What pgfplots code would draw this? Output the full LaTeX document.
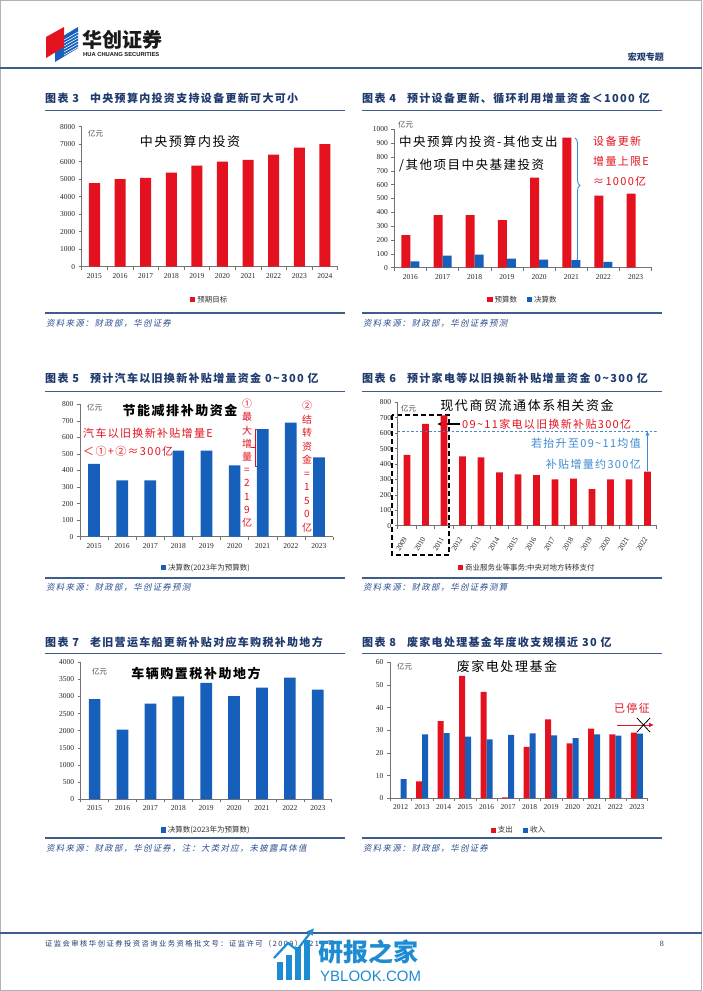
\documentclass[border=0pt]{standalone}
\usepackage{pgfplots}
\pgfplotsset{compat=1.18}
\usepackage{fontspec}
\setmainfont{Liberation Serif}
\newfontfamily\cjk{Noto Sans CJK SC}
\newfontfamily\cjksp[LetterSpace=12]{Noto Sans CJK SC}
\newfontfamily\cjkit[FakeSlant=0.2,LetterSpace=14]{Noto Sans CJK SC}
\newfontfamily\cjkft[LetterSpace=20]{Noto Sans CJK SC}
\newfontfamily\sans{Liberation Sans}
\usetikzlibrary{decorations.pathreplacing,arrows.meta}

\definecolor{hcred}{RGB}{228,18,30}
\definecolor{hcblue}{RGB}{22,96,188}
\definecolor{navy}{RGB}{30,58,110}
\definecolor{lineblue}{RGB}{62,92,140}
\definecolor{lblue}{RGB}{60,140,210}
\definecolor{srcblue}{RGB}{45,80,145}
\definecolor{wmblue}{RGB}{30,140,210}

\newcommand{\ttl}{\fontsize{11}{11}\selectfont\cjksp\bfseries}
\newcommand{\src}{\fontsize{8.5}{9}\selectfont\cjkit}
\newcommand{\bigt}{\fontsize{13}{13}\selectfont\cjksp}
\newcommand{\ann}{\fontsize{11}{11}\selectfont\cjksp}
\newcommand{\unit}{\fontsize{7.5}{8}\selectfont\cjk}

\pgfplotsset{
  sq/.style={legend image code/.code={\fill[##1] (0pt,-2.6pt) rectangle (5.2pt,2.6pt);}},
  hc/.style={
    scale only axis, ybar, ymin=0,
    axis x line*=bottom, axis y line*=left,
    axis line style={black!55, line width=0.6pt},
    tick style={black!55, line width=0.5pt},
    tick align=outside, major tick length=3pt,
    x tick label as interval,
    tick label style={font=\fontsize{7.5}{8}\selectfont, text=black!85},
    /pgf/number format/1000 sep={},
    /pgf/number format/assume math mode=true,
    legend style={draw=none, fill=none, font=\fontsize{7.5}{8}\selectfont\cjk, text=black!80,
      legend columns=-1, anchor=center, /tikz/every even column/.append style={column sep=8pt}},
  },
}

\begin{document}
\begin{tikzpicture}
\begin{scope}[x=1pt,y=-1pt]
\path[use as bounding box] (0,0) rectangle (702,991);
\fill[white] (0,0) rectangle (702,991);
\draw[gray!60, line width=0.8pt] (0.5,0.5) rectangle (701.5,990.5);

% ---------- header ----------
\fill[hcblue] (55,41) -- (78,27) -- (78,48) -- (55,62) -- cycle;
\foreach \k in {0,3,6,9,12,15,18} {\draw[white, line width=0.6pt] (64,58-\k) -- (78,58-\k-8);}
\fill[hcred] (46,37) -- (64,27) -- (64,47) -- (46,58) -- cycle;
\node[anchor=west, inner sep=0, text=black!90] at (82,40) {\fontsize{20}{20}\selectfont\cjk\bfseries 华创证券};
\node[anchor=west, inner sep=0, text=black!90] at (83,55) {\fontsize{5.8}{6}\selectfont\sans\bfseries HUA CHUANG SECURITIES};
\node[anchor=east, inner sep=0, text=navy] at (664,57) {\fontsize{9}{9}\selectfont\cjk\bfseries 宏观专题};
\draw[lineblue, line width=2pt] (0,68) -- (702,68);

% ---------- titles ----------
\node[anchor=west, inner sep=0, text=navy] at (45,98) {\ttl 图表 3\quad 中央预算内投资支持设备更新可大可小};
\node[anchor=west, inner sep=0, text=navy] at (362,98) {\ttl 图表 4\quad 预计设备更新、循环利用增量资金＜1000 亿};
\draw[lineblue, line width=1.2pt] (45,110.5) -- (345,110.5);
\draw[lineblue, line width=1.2pt] (362,110.5) -- (662,110.5);
\node[anchor=west, inner sep=0, text=navy] at (45,378) {\ttl 图表 5\quad 预计汽车以旧换新补贴增量资金 0\textasciitilde300 亿};
\node[anchor=west, inner sep=0, text=navy] at (362,378) {\ttl 图表 6\quad 预计家电等以旧换新补贴增量资金 0\textasciitilde300 亿};
\draw[lineblue, line width=1.2pt] (45,391.5) -- (345,391.5);
\draw[lineblue, line width=1.2pt] (362,391.5) -- (662,391.5);
\node[anchor=west, inner sep=0, text=navy] at (45,642) {\ttl 图表 7\quad 老旧营运车船更新补贴对应车购税补助地方};
\node[anchor=west, inner sep=0, text=navy] at (362,642) {\ttl 图表 8\quad 废家电处理基金年度收支规模近 30 亿};
\draw[lineblue, line width=1.2pt] (45,653.5) -- (345,653.5);
\draw[lineblue, line width=1.2pt] (362,653.5) -- (662,653.5);

% chart 3 texts
\node[anchor=west, inner sep=0, text=black!70] at (88,134) {\unit 亿元};
\node[inner sep=0] at (190,142) {\bigt 中央预算内投资};
% chart 4 texts
\node[anchor=west, inner sep=0, text=black!70] at (398,125) {\unit 亿元};
\node[anchor=west, inner sep=0] at (399,142) {\fontsize{12.5}{12.5}\selectfont\cjksp 中央预算内投资-其他支出};
\node[anchor=west, inner sep=0] at (399,165) {\fontsize{12.5}{12.5}\selectfont\cjksp /其他项目中央基建投资};
\draw[lblue, line width=0.9pt, decorate, decoration={brace, amplitude=5pt, aspect=0.38}] (575,138) -- (575,263);
\node[anchor=west, inner sep=0, text=hcred] at (593,141) {\ann 设备更新};
\node[anchor=west, inner sep=0, text=hcred] at (593,161) {\ann 增量上限E};
\node[anchor=west, inner sep=0, text=hcred] at (593,181) {\ann ≈1000亿};
% chart 5 texts
\node[anchor=west, inner sep=0, text=black!70] at (87,408) {\unit 亿元};
\node[inner sep=0] at (180,410) {\bigt\bfseries 节能减排补助资金};
\node[anchor=west, inner sep=0, text=hcred] at (83,433) {\ann 汽车以旧换新补贴增量E};
\node[anchor=west, inner sep=0, text=hcred] at (83,451) {\ann ＜①+②≈300亿};
\node[anchor=north, inner sep=0, text=hcred, align=center, font={\fontsize{10}{13.2}\selectfont\cjk}] at (247,399) {①\\最\\大\\增\\量\\=\\2\\1\\9\\亿};
\node[anchor=north, inner sep=0, text=hcred, align=center, font={\fontsize{10}{13.5}\selectfont\cjk}] at (307,401) {②\\结\\转\\资\\金\\=\\1\\5\\0\\亿};
\draw[hcred, line width=0.9pt] (259,429) -- (255,429) -- (255,466) -- (259,466);
\draw[hcred, line width=0.9pt] (255,447) -- (251,447);
% chart 6 texts
\node[anchor=west, inner sep=0, text=black!70] at (401,409) {\unit 亿元};
\node[inner sep=0] at (527,406) {\bigt 现代商贸流通体系相关资金};
\draw[black, line width=1.8pt, dash pattern=on 5pt off 3pt] (392,415) rectangle (449,555);
\draw[black, line width=1.1pt, -{Latex[length=5pt,width=5pt]}] (460,424) -- (437,424);
\node[anchor=west, inner sep=0, text=hcred] at (462,424) {\ann 09\textasciitilde 11家电以旧换新补贴300亿};
\node[anchor=east, inner sep=0, text=lblue] at (641,443) {\ann 若抬升至09\textasciitilde 11均值};
\node[anchor=east, inner sep=0, text=lblue] at (641,464) {\ann 补贴增量约300亿};
% chart 7 texts
\node[anchor=west, inner sep=0, text=black!70] at (92,672) {\unit 亿元};
\node[inner sep=0] at (196,673) {\bigt\bfseries 车辆购置税补助地方};
% chart 8 texts
\node[anchor=west, inner sep=0, text=black!70] at (397,667) {\unit 亿元};
\node[inner sep=0] at (507,667) {\bigt 废家电处理基金};
\node[inner sep=0, text=hcred] at (632,708) {\ann 已停征};
\draw[hcred, line width=1pt, -{Latex[length=5pt,width=5pt]}] (617,725) -- (654,725);
\draw[black, line width=0.8pt] (637,718) -- (650,732) (637,732) -- (650,718);

% ---------- sources ----------
\draw[lineblue, line width=1.2pt] (45,313) -- (345,313);
\draw[lineblue, line width=1.2pt] (362,313) -- (662,313);
\draw[lineblue, line width=1.2pt] (45,578) -- (345,578);
\draw[lineblue, line width=1.2pt] (362,578) -- (662,578);
\draw[lineblue, line width=1.2pt] (45,838) -- (345,838);
\draw[lineblue, line width=1.2pt] (362,838) -- (662,838);
\node[anchor=west, inner sep=0, text=srcblue] at (46,323) {\src 资料来源：财政部，华创证券};
\node[anchor=west, inner sep=0, text=srcblue] at (363,323) {\src 资料来源：财政部，华创证券预测};
\node[anchor=west, inner sep=0, text=srcblue] at (46,587) {\src 资料来源：财政部，华创证券预测};
\node[anchor=west, inner sep=0, text=srcblue] at (363,587) {\src 资料来源：财政部，华创证券测算};
\node[anchor=west, inner sep=0, text=srcblue] at (46,848) {\src 资料来源：财政部，华创证券，注：大类对应，未披露具体值};
\node[anchor=west, inner sep=0, text=srcblue] at (363,848) {\src 资料来源：财政部，华创证券};

% ---------- footer ----------
\draw[lineblue, line width=1.6pt] (0,933) -- (702,933);
\node[anchor=west, inner sep=0, text=navy] at (45,944) {\fontsize{7.3}{7.3}\selectfont\cjkft 证监会审核华创证券投资咨询业务资格批文号：证监许可（2009）1210 号};
\node[anchor=east, inner sep=0, text=navy] at (664,944) {\fontsize{8}{8}\selectfont 8};
\fill[wmblue] (277,980) rectangle (283,962);
\fill[wmblue] (286,980) rectangle (292,955);
\fill[wmblue] (295,980) rectangle (301,947);
\fill[wmblue] (304,980) rectangle (310,940);
\draw[wmblue, line width=2.2pt, -{Latex[length=7pt,width=8pt]}] (274,958) -- (288,943) -- (297,950) -- (314,928);
\node[anchor=west, inner sep=0, text=wmblue] at (318,952) {\fontsize{25}{25}\selectfont\cjk\bfseries 研报之家};
\node[anchor=west, inner sep=0, text=wmblue] at (320,976) {\fontsize{15}{15}\selectfont\sans YBLOOK.COM};
\end{scope}

% ---------- chart 3 ----------
\begin{axis}[hc, at={(81.7pt,-266.7pt)}, anchor=south west, width=256pt, height=140pt,
  xmin=-0.5, xmax=9.5, xtick={-0.5,0.5,...,9.5},
  xticklabels={2015,2016,2017,2018,2019,2020,2021,2022,2023,2024},
  ymax=8000, ytick={0,1000,...,8000}, bar width=11pt,
  legend style={at={(0.5,0)}, yshift=-33pt}]
\addplot[fill=hcred, draw=none, sq] coordinates {(0,4776) (1,5000) (2,5076) (3,5376) (4,5776) (5,6000) (6,6100) (7,6400) (8,6800) (9,7000)};
\legend{预期目标}
\end{axis}

% ---------- chart 4 ----------
\begin{axis}[hc, at={(394.3pt,-267.7pt)}, anchor=south west, width=257.4pt, height=138.4pt,
  xmin=-0.5, xmax=7.5, xtick={-0.5,0.5,...,7.5},
  xticklabels={2016,2017,2018,2019,2020,2021,2022,2023},
  ymax=1000, ytick={0,100,...,1000}, ybar=0pt, bar width=9pt,
  legend style={at={(0.5,0)}, yshift=-32pt}]
\addplot[fill=hcred, draw=none, sq] coordinates {(0,235) (1,380) (2,380) (3,343) (4,650) (5,940) (6,520) (7,535)};
\addplot[fill=hcblue, draw=none, sq] coordinates {(0,45) (1,88) (2,95) (3,65) (4,58) (5,55) (6,42)};
\legend{预算数,决算数}
\end{axis}

% ---------- chart 5 ----------
\begin{axis}[hc, at={(80pt,-536.7pt)}, anchor=south west, width=253pt, height=132.4pt,
  xmin=-0.5, xmax=8.5, xtick={-0.5,0.5,...,8.5},
  xticklabels={2015,2016,2017,2018,2019,2020,2021,2022,2023},
  ymax=800, ytick={0,100,...,800}, bar width=11.7pt,
  legend style={at={(0.5,0)}, yshift=-31pt}]
\addplot[fill=hcblue, draw=none, sq] coordinates {(0,440) (1,340) (2,340) (3,520) (4,520) (5,431) (6,650) (7,690) (8,480)};
\legend{决算数(2023年为预算数)}
\end{axis}

% ---------- chart 6 ----------
\begin{axis}[hc, at={(397.7pt,-525.7pt)}, anchor=south west, width=259pt, height=123.4pt,
  xmin=-0.5, xmax=13.5, xtick={-0.5,0.5,...,13.5},
  xticklabels={2009,2010,2011,2012,2013,2014,2015,2016,2017,2018,2019,2020,2021,2022},
  xticklabel style={yshift=-6pt, rotate=60, anchor=east},
  ymax=800, ytick={0,100,...,800}, bar width=6.7pt,
  legend style={at={(0.5,0)}, yshift=-42pt}]
\addplot[fill=hcred, draw=none, sq] coordinates {(0,460) (1,660) (2,715) (3,450) (4,443) (5,345) (6,333) (7,328) (8,300) (9,305) (10,237) (11,300) (12,300) (13,350)};
\legend{商业服务业等事务:中央对地方转移支付}
\draw[lblue, line width=0.7pt, dash pattern=on 2.5pt off 2pt] (axis cs:-0.5,613) -- (axis cs:13.5,613);
\draw[lblue, line width=0.6pt, -{Stealth[length=5pt,width=4pt]}] (axis cs:13,352) -- (axis cs:13,613);
\end{axis}

% ---------- chart 7 ----------
\begin{axis}[hc, at={(80.7pt,-799pt)}, anchor=south west, width=251pt, height=136.7pt,
  xmin=-0.5, xmax=8.5, xtick={-0.5,0.5,...,8.5},
  xticklabels={2015,2016,2017,2018,2019,2020,2021,2022,2023},
  ymax=4000, ytick={0,500,...,4000}, bar width=11.7pt,
  legend style={at={(0.5,0)}, yshift=-31pt}]
\addplot[fill=hcblue, draw=none, sq] coordinates {(0,2920) (1,2030) (2,2790) (3,3000) (4,3400) (5,3010) (6,3260) (7,3550) (8,3200)};
\legend{决算数(2023年为预算数)}
\end{axis}

% ---------- chart 8 ----------
\begin{axis}[hc, at={(390pt,-798.3pt)}, anchor=south west, width=257.7pt, height=136pt,
  xmin=-0.5, xmax=11.5, xtick={-0.5,0.5,...,11.5},
  xticklabels={2012,2013,2014,2015,2016,2017,2018,2019,2020,2021,2022,2023},
  ymax=60, ytick={0,10,...,60}, ybar=0pt, bar width=6pt,
  legend style={at={(0.5,0)}, yshift=-32pt}]
\addplot[fill=hcred, draw=none, sq] coordinates {(1,7.5) (2,34) (3,54) (4,47) (5,0.4) (6,22.7) (7,34.8) (8,24.2) (9,30.7) (10,28.2) (11,29)};
\addplot[fill=hcblue, draw=none, sq] coordinates {(0,8.5) (1,28.2) (2,28.8) (3,27.2) (4,26) (5,28) (6,28.7) (7,27.8) (8,26.5) (9,28.2) (10,27.7) (11,28.5)};
\legend{支出,收入}
\end{axis}
\end{tikzpicture}
\end{document}
